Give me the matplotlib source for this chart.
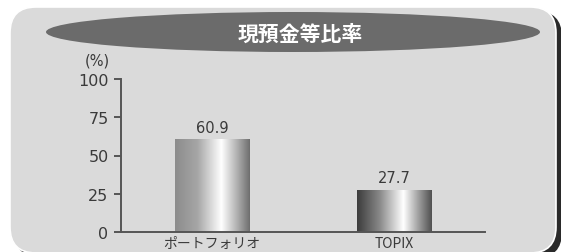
import matplotlib
matplotlib.use('Agg')
import matplotlib.pyplot as plt
from matplotlib.patches import FancyBboxPatch, Ellipse
from matplotlib.colors import LinearSegmentedColormap
import numpy as np

plt.rcParams['font.family'] = ['DejaVu Sans', 'Noto Sans CJK JP']

title = '現預金等比率'
categories = ['ポートフォリオ', 'TOPIX']
values = [60.9, 27.7]
yticks = [0, 25, 50, 75, 100]

fig = plt.figure(figsize=(5.61, 2.53), dpi=100)
fig.patch.set_facecolor('white')

# background panel in pixel coordinates
bg = fig.add_axes([0, 0, 1, 1])
bg.set_xlim(0, 561)
bg.set_ylim(253, 0)
bg.axis('off')
shadow = FancyBboxPatch((15, 12), 547, 247, boxstyle='round,pad=0,rounding_size=26',
                        facecolor='#2a2a2a', edgecolor='none')
panel = FancyBboxPatch((10, 8), 546, 246, boxstyle='round,pad=0,rounding_size=26',
                       facecolor='#dadada', edgecolor='white', linewidth=1.2)
bg.add_patch(shadow)
bg.add_patch(panel)
bg.add_patch(Ellipse((293, 33), 494, 40, facecolor='#6b6b6b', edgecolor='none'))
bg.text(300, 34, title, color='white', fontsize=15, fontweight='bold',
        ha='center', va='center', family=['Noto Sans CJK JP'])
bg.text(97, 61, '(%)', color='#3a3a3a', fontsize=10.5, ha='center', va='center',
        family=['DejaVu Sans'])

ax = fig.add_axes([121 / 561, 20 / 253, 364 / 561, 153 / 253])
ax.patch.set_alpha(0)
x = np.arange(len(categories))
bars = ax.bar(x, values, width=0.41, facecolor='none', edgecolor='none')

grads = [
    ['#8c8c8c', '#a6a6a6', '#ffffff', '#b4b4b4', '#6e6e6e'],
    ['#3c3c3c', '#888888', '#ffffff', '#a0a0a0', '#505050'],
]
for b, cols in zip(bars, grads):
    cmap = LinearSegmentedColormap.from_list('g', list(zip([0, 0.3, 0.62, 0.82, 1.0], cols)))
    grad = np.linspace(0, 1, 256).reshape(1, -1)
    x0, y0, w, h = b.get_x(), b.get_y(), b.get_width(), b.get_height()
    im = ax.imshow(grad, cmap=cmap, aspect='auto', extent=(x0, x0 + w, y0, y0 + h), zorder=2)
    im.set_clip_path(b)

ax.bar_label(bars, labels=['{:.1f}'.format(v) for v in values], padding=3,
             fontsize=10.5, color='#3a3a3a', family=['DejaVu Sans'])

ax.set_xlim(-0.5, 1.5)
ax.set_ylim(0, 100)
ax.set_yticks(yticks)
ax.set_yticklabels([str(t) for t in yticks], family=['DejaVu Sans'])
ax.set_xticks(x)
ax.set_xticklabels(categories, family=['Noto Sans CJK JP', 'DejaVu Sans'])
for s in ['top', 'right']:
    ax.spines[s].set_visible(False)
for s in ['left', 'bottom']:
    ax.spines[s].set_color('#555555')
    ax.spines[s].set_linewidth(1.4)
ax.tick_params(axis='y', length=5, width=1.4, color='#555555', labelsize=11.5,
               labelcolor='#3a3a3a', pad=4)
ax.tick_params(axis='x', length=0, labelsize=10, labelcolor='#3a3a3a', pad=3)

fig.savefig('out.png', dpi=100, facecolor='white')
